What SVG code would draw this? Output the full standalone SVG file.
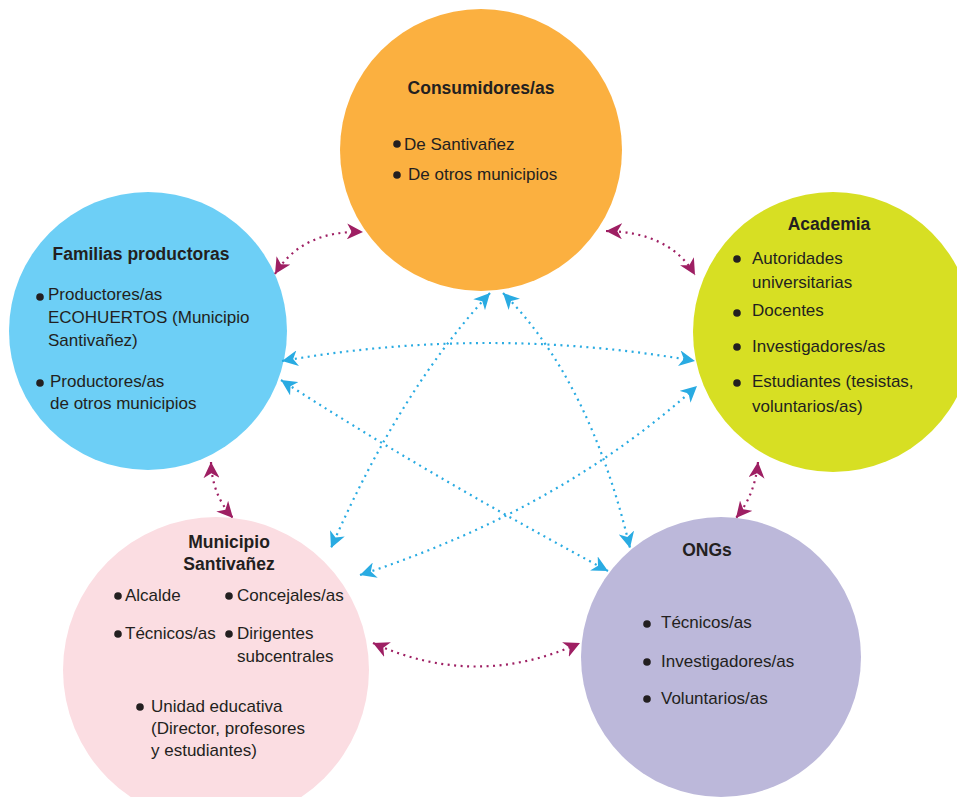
<svg xmlns="http://www.w3.org/2000/svg" width="957" height="797" viewBox="0 0 957 797">
<defs>
<style>
.t{font-family:"Liberation Sans",Arial,sans-serif;font-size:17px;fill:#231f20}
.h{font-family:"Liberation Sans",Arial,sans-serif;font-size:17.5px;font-weight:bold;fill:#231f20;text-anchor:middle}
.b{fill:#231f20}
.m{fill:none;stroke:#9e1f63;stroke-width:2.2;stroke-dasharray:2 4.5;marker-start:url(#am);marker-end:url(#am)}
.c{fill:none;stroke:#29abe2;stroke-width:2.2;stroke-dasharray:2 4.5;marker-start:url(#ac);marker-end:url(#ac)}
</style>
<marker id="am" viewBox="0 0 12 12" refX="12" refY="6" markerWidth="16" markerHeight="16" markerUnits="userSpaceOnUse" orient="auto-start-reverse">
<path d="M0,0 L12,6 L0,12 L3.5,6 Z" fill="#9e1f63"/>
</marker>
<marker id="ac" viewBox="0 0 12 12" refX="12" refY="6" markerWidth="16" markerHeight="16" markerUnits="userSpaceOnUse" orient="auto-start-reverse">
<path d="M0,0 L12,6 L0,12 L3.5,6 Z" fill="#29abe2"/>
</marker>
</defs>
<rect width="957" height="797" fill="#ffffff"/>

<g id="consumidores">
<circle cx="481" cy="150" r="141" fill="#fbb040"/>
<text class="h" x="481" y="94">Consumidores/as</text>
<circle class="b" cx="397" cy="144" r="3.8"/>
<text class="t" x="404" y="150">De Santivañez</text>
<circle class="b" cx="397" cy="175" r="3.8"/>
<text class="t" x="408" y="180">De otros municipios</text>
</g>

<g id="familias">
<circle cx="148" cy="331" r="139" fill="#6dcff6"/>
<text class="h" x="141" y="260">Familias productoras</text>
<circle class="b" cx="40" cy="297" r="3.8"/>
<text class="t" x="48" y="300">Productores/as</text>
<text class="t" x="48" y="323">ECOHUERTOS (Municipio</text>
<text class="t" x="48" y="346">Santivañez)</text>
<circle class="b" cx="40" cy="383" r="3.8"/>
<text class="t" x="50" y="387">Productores/as</text>
<text class="t" x="50" y="409">de otros municipios</text>
</g>

<g id="academia">
<circle cx="833" cy="332" r="140" fill="#d7df23"/>
<text class="h" x="829" y="230">Academia</text>
<circle class="b" cx="737" cy="259" r="3.8"/>
<text class="t" x="752" y="264">Autoridades</text>
<text class="t" x="752" y="288">universitarias</text>
<circle class="b" cx="737" cy="313" r="3.8"/>
<text class="t" x="752" y="316">Docentes</text>
<circle class="b" cx="737" cy="347" r="3.8"/>
<text class="t" x="752" y="352">Investigadores/as</text>
<circle class="b" cx="737" cy="383" r="3.8"/>
<text class="t" x="752" y="387">Estudiantes (tesistas,</text>
<text class="t" x="752" y="412">voluntarios/as)</text>
</g>

<g id="municipio">
<circle cx="216" cy="670" r="153" fill="#fbdde2"/>
<text class="h" x="229" y="548">Municipio</text>
<text class="h" x="229" y="570">Santivañez</text>
<circle class="b" cx="118" cy="596" r="3.8"/>
<text class="t" x="125" y="601">Alcalde</text>
<circle class="b" cx="229" cy="596" r="3.8"/>
<text class="t" x="237" y="601">Concejales/as</text>
<circle class="b" cx="118" cy="634" r="3.8"/>
<text class="t" x="125" y="639">Técnicos/as</text>
<circle class="b" cx="229" cy="634" r="3.8"/>
<text class="t" x="237" y="639">Dirigentes</text>
<text class="t" x="237" y="662">subcentrales</text>
<circle class="b" cx="140" cy="707" r="3.8"/>
<text class="t" x="151" y="712">Unidad educativa</text>
<text class="t" x="151" y="734">(Director, profesores</text>
<text class="t" x="151" y="756">y estudiantes)</text>
</g>

<g id="ongs">
<circle cx="721" cy="657" r="140" fill="#bcb8da"/>
<text class="h" x="707" y="556">ONGs</text>
<circle class="b" cx="647" cy="624" r="3.8"/>
<text class="t" x="661" y="628">Técnicos/as</text>
<circle class="b" cx="647" cy="662" r="3.8"/>
<text class="t" x="661" y="667">Investigadores/as</text>
<circle class="b" cx="647" cy="699" r="3.8"/>
<text class="t" x="661" y="704">Voluntarios/as</text>
</g>

<g id="connectors">
<path class="m" d="M275,274 Q302,230 363,232"/>
<path class="m" d="M606,231 Q670,232 695,275"/>
<path class="m" d="M211,462 Q212,495 233,518"/>
<path class="m" d="M758,462 Q755,495 736,518"/>
<path class="m" d="M373,643 Q476,690 580,643"/>
<path class="c" d="M282,361 Q488,325 695,361"/>
<path class="c" d="M281,380 Q420,470 608,571"/>
<path class="c" d="M360,575 Q560,510 697,386"/>
<path class="c" d="M490,293 Q400,390 331,548"/>
<path class="c" d="M503,293 Q590,380 630,548"/>
</g>
</svg>
